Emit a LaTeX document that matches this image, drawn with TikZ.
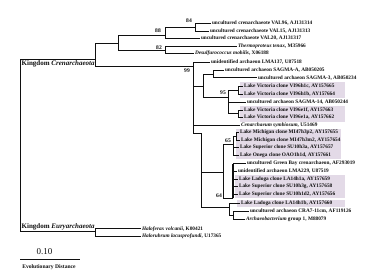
\documentclass[tikz,border=0pt]{standalone}
\usepackage{fontspec}
\setmainfont{Liberation Serif}
\usetikzlibrary{backgrounds}
\definecolor{cladebg}{HTML}{E3DAE7}
\definecolor{treeink}{HTML}{101010}

\tikzset{
  branch/.style={line width=0.75pt, treeink},
  leaf/.style={anchor=west, inner sep=0.8pt, font=\fontsize{5.3}{6}\selectfont\bfseries, text=treeink},
  boot/.style={inner sep=0pt, font=\fontsize{5.6}{6}\selectfont\bfseries, text=treeink},
  kingdom/.style={inner sep=0.5pt, font=\fontsize{7}{8}\selectfont\bfseries, text=treeink},
  clade/.style={fill=cladebg, draw=none},
}

\begin{document}
\begin{tikzpicture}[x=1pt, y=-1pt]
  \useasboundingbox (0,0) rectangle (380,270);

  % Fondos de los clones de lagos
  \fill[clade] (240,82) rectangle (345,98);
  \fill[clade] (240,106) rectangle (345,121.5);
  \fill[clade] (236,128.5) rectangle (341,159);
  \fill[clade] (235,175) rectangle (345,198);
  \fill[clade] (237,199.5) rectangle (345,207);

  % Nodos internos
  \coordinate (root) at (20,145);
  \coordinate (cren) at (95,59);
  \coordinate (nA) at (118,43.3);
  \coordinate (n88) at (165,35);
  \coordinate (n84) at (195,27.3);
  \coordinate (n82) at (165,50);
  \coordinate (n99) at (193,66.7);
  \coordinate (nS) at (203,86);
  \coordinate (nX) at (213,74);
  \coordinate (n95) at (228,97);
  \coordinate (nH) at (238,90);
  \coordinate (nE) at (238,113.7);
  \coordinate (nC) at (201,133);
  \coordinate (n64) at (223,172);
  \coordinate (n65) at (233,144.5);
  \coordinate (nMI) at (236,136.3);
  \coordinate (bartop) at (233,163.5);
  \coordinate (nbar) at (233,198);
  \coordinate (nLB) at (229,207);
  \coordinate (nCRA) at (233,215.3);
  \coordinate (eury) at (95,231);

  % Hojas Crenarchaeota
  \node[leaf] (val96) at (211,23.5) {uncultured crenarchaeote VAL96, AJ131314};
  \node[leaf] (val15) at (209,31) {uncultured crenarchaeote VAL15, AJ131313};
  \node[leaf] (val20) at (200,38.5) {uncultured crenarchaeote VAL20, AJ131317};
  \node[leaf] (thermo) at (237,46) {\textit{Thermoproteus tenax}, M35966};
  \node[leaf] (desulfo) at (194,53.5) {\textit{Desulfurococcus mobilis}, X06188};
  \node[leaf] (lma137) at (210,62) {unidentified archaeon LMA137, U87518};
  \node[leaf] (sagmaA) at (224,70) {uncultured archaeon SAGMA-A, AB050205};
  \node[leaf] (sagma3) at (257,77.7) {uncultured archaeon SAGMA-3, AB050234};
  \node[leaf] (vih1c) at (243,86) {Lake Victoria clone VI96h1c, AY157665};
  \node[leaf] (vih1b) at (243,94) {Lake Victoria clone VI96h1b, AY157664};
  \node[leaf] (sagma14) at (246,102) {uncultured archaeon SAGMA-14, AB050244};
  \node[leaf] (vie1f) at (243,110) {Lake Victoria clone VI96e1f, AY157663};
  \node[leaf] (vie1a) at (243,117.5) {Lake Victoria clone VI96e1a, AY157662};
  \node[leaf] (cenarch) at (240,125) {\textit{Cenarchaeum symbiosum}, U51469};
  \node[leaf] (mip2) at (239,132.5) {Lake Michigan clone MI47h3p2, AY157655};
  \node[leaf] (mim2) at (240,140) {Lake Michigan clone MI47h3m2, AY157654};
  \node[leaf] (suh3a) at (239,147.7) {Lake Superior clone SU10h3a, AY157657};
  \node[leaf] (oaoh1d) at (239,155.3) {Lake Onega clone OAO1h1d, AY157661};
  \node[leaf] (greenbay) at (246,163.5) {uncultured Green Bay crenarchaeon, AF293019};
  \node[leaf] (lma229) at (237,171) {unidentified archaeon LMA229, U87519};
  \node[leaf] (lah1a) at (238,179) {Lake Ladoga clone LA14h1a, AY157659};
  \node[leaf] (suh3g) at (238,186.7) {Lake Superior clone SU10h3g, AY157658};
  \node[leaf] (suh1d2) at (238,194.3) {Lake Superior clone SU10h1d2, AY157656};
  \node[leaf] (lah1b) at (240,203) {Lake Ladoga clone LA14h1b, AY157660};
  \node[leaf] (cra7) at (249,211.5) {uncultured archaeon CRA7-11cm, AF119126};
  \node[leaf] (archaeo) at (245,219) {\textit{Archaeobacterium} group 1, M88079};

  % Hojas Euryarchaeota
  \node[leaf] (halofx) at (141,228.7) {\textit{Haloferax volcanii}, K00421};
  \node[leaf] (halorb) at (141,236) {\textit{Halorubrum lacusprofundi}, U17365};

  % Ramas
  \draw[branch] (root) |- (cren);
  \draw[branch] (root) |- (eury);
  \draw[branch] (cren) |- (nA);
  \draw[branch] (cren) |- (n99);
  \draw[branch] (nA) |- (n88);
  \draw[branch] (nA) |- (n82);
  \draw[branch] (n88) |- (n84);
  \draw[branch] (n88) |- (val20.west);
  \draw[branch] (n84) |- (val96.west);
  \draw[branch] (n84) |- (val15.west);
  \draw[branch] (n82) |- (thermo.west);
  \draw[branch] (n82) |- (desulfo.west);
  \draw[branch] (n99) |- (lma137.west);
  \draw[branch] (n99) |- (nS);
  \draw[branch] (n99) |- (cenarch.west);
  \draw[branch] (n99) |- (nC);
  \draw[branch] (nS) |- (nX);
  \draw[branch] (nS) |- (n95);
  \draw[branch] (nX) |- (sagmaA.west);
  \draw[branch] (nX) |- (sagma3.west);
  \draw[branch] (n95) |- (nH);
  \draw[branch] (n95) |- (sagma14.west);
  \draw[branch] (n95) |- (nE);
  \draw[branch] (nH) |- (vih1c.west);
  \draw[branch] (nH) |- (vih1b.west);
  \draw[branch] (nE) |- (vie1f.west);
  \draw[branch] (nE) |- (vie1a.west);
  \draw[branch] (nC) |- (n64);
  \draw[branch] (nC) |- (nLB);
  \draw[branch] (n64) |- (n65);
  \draw[branch] (n64) |- (nbar);
  \draw[branch] (n65) |- (nMI);
  \draw[branch] (n65) |- (suh3a.west);
  \draw[branch] (n65) |- (oaoh1d.west);
  \draw[branch] (nMI) |- (mip2.west);
  \draw[branch] (nMI) |- (mim2.west);
  \draw[branch, line width=1.4pt] (bartop) -- (nbar);
  \draw[branch] (bartop) -- (greenbay.west);
  \draw[branch] (nbar) |- (lma229.west);
  \draw[branch] (nbar) |- (lah1a.west);
  \draw[branch] (nbar) |- (suh3g.west);
  \draw[branch] (nbar) |- (suh1d2.west);
  \draw[branch] (nLB) |- (lah1b.west);
  \draw[branch] (nLB) |- (nCRA);
  \draw[branch] (nCRA) |- (cra7.west);
  \draw[branch] (nCRA) |- (archaeo.west);
  \draw[branch] (eury) |- (halofx.west);
  \draw[branch] (eury) |- (halorb.west);

  % Valores de bootstrap
  \node[boot] (b84) at (189,21) {84};
  \node[boot] (b88) at (158,31) {88};
  \node[boot] (b82) at (159,48) {82};
  \node[boot] (b99) at (187,71) {99};
  \node[boot] (b95) at (223,93) {95};
  \node[boot] (b65) at (228,141) {65};
  \node[boot] (b64) at (219,195.5) {64};

  % Reinos
  \node[kingdom, anchor=north west] (kcren) at (21,60) {Kingdom \textit{Crenarchaeota}};
  \node[kingdom, anchor=south west] (keury) at (21,230.3) {Kingdom \textit{Euryarchaeota}};

  % Escala
  \coordinate (sbl) at (20,259);
  \coordinate (sbr) at (80,259);
  \draw[branch] (sbl) -- (sbr);
  \node[font=\fontsize{9}{10}\selectfont, text=treeink] (sbval) at (44.5,251.7) {0.10};
  \node[font=\fontsize{5.6}{6}\selectfont\bfseries, text=treeink] (sbtxt) at (49,266.8) {Evolutionary Distance};
\end{tikzpicture}
\end{document}
